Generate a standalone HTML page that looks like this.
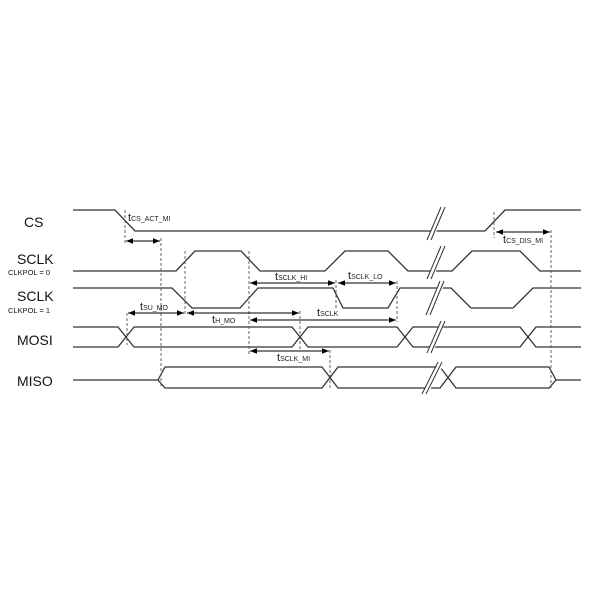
<!DOCTYPE html>
<html><head><style>body{margin:0;background:#fff}svg{display:block}</style></head>
<body>
<svg width="600" height="600" xmlns="http://www.w3.org/2000/svg" font-family="Liberation Sans, sans-serif">
<defs>
<marker id="a" viewBox="0 0 10 10" refX="10" refY="5" markerWidth="7" markerHeight="7" orient="auto-start-reverse"><path d="M0,1 L10,5 L0,9 z" fill="#000"/></marker>
</defs>
<g fill="none" stroke="#333" stroke-width="1.3">
<!-- CS -->
<polyline points="73,210 115,210 135,231 485,231 505,210 581,210"/>
<!-- SCLK0 -->
<polyline points="73,271 176,271 195,251 241,251 260,271 325,271 345,251 388,251 408,271 452,271 472,251 520,251 540,271 581,271"/>
<!-- SCLK1 -->
<polyline points="73,288 172,288 192,308 240,308 258,288 333,288 343,308 388,308 400,288 451,288 471,308 513,308 533,288 581,288"/>
<!-- MOSI -->
<polyline points="73,327 118,327 134,347 292,347 308,327 397,327 413,347 520,347 536,327 581,327"/>
<polyline points="73,347 118,347 134,327 292,327 308,347 397,347 413,327 520,327 536,347 581,347"/>
<!-- MISO -->
<polyline points="73,380 158,380 165,367 322,367 338,388 440,388 456,367 549,367 556,380 581,380"/>
<polyline points="158,380 165,388 322,388 338,367 440,367 456,388 549,388 556,380"/>
</g>
<!-- break marks -->
<g stroke="#fff" stroke-width="5">
<line x1="430" y1="240" x2="444" y2="207"/><line x1="430" y1="279" x2="444" y2="246"/><line x1="429" y1="315" x2="443" y2="281"/><line x1="430" y1="353" x2="443" y2="321"/><line x1="425" y1="394" x2="442" y2="362"/>
</g>
<g stroke="#333" stroke-width="1">
<line x1="427" y1="240" x2="441" y2="207"/><line x1="431" y1="240" x2="445" y2="207"/>
<line x1="427" y1="279" x2="441" y2="246"/><line x1="431" y1="279" x2="445" y2="246"/>
<line x1="426" y1="315" x2="440" y2="281"/><line x1="430" y1="315" x2="444" y2="281"/>
<line x1="427" y1="353" x2="441" y2="321"/><line x1="431" y1="353" x2="445" y2="321"/>
<line x1="422" y1="394" x2="438" y2="362"/><line x1="426" y1="394" x2="442" y2="362"/>
</g>
<!-- dashed -->
<g stroke="#555" stroke-width="0.9" stroke-dasharray="3,2">
<line x1="125" y1="210" x2="125" y2="243"/>
<line x1="161" y1="238" x2="161" y2="388"/>
<line x1="185" y1="251" x2="185" y2="316"/>
<line x1="249" y1="251" x2="249" y2="354"/>
<line x1="336" y1="280" x2="336" y2="310"/>
<line x1="397" y1="281" x2="397" y2="322"/>
<line x1="127" y1="313" x2="127" y2="345"/>
<line x1="300" y1="311" x2="300" y2="350"/>
<line x1="330" y1="350" x2="330" y2="390"/>
<line x1="494" y1="212" x2="494" y2="238"/>
<line x1="551" y1="230" x2="551" y2="390"/>
</g>
<!-- arrows -->
<g stroke="#000" stroke-width="1" marker-start="url(#a)" marker-end="url(#a)">
<line x1="126" y1="241" x2="160" y2="241"/>
<line x1="250" y1="283" x2="335" y2="283"/>
<line x1="338" y1="283" x2="396" y2="283"/>
<line x1="128" y1="313" x2="184" y2="313"/>
<line x1="187" y1="313" x2="299" y2="313"/>
<line x1="250" y1="320" x2="396" y2="320"/>
<line x1="250" y1="351" x2="329" y2="351"/>
<line x1="496" y1="232" x2="550" y2="232"/>
</g>
<g fill="#222" font-size="11">
<text x="128" y="221">t<tspan font-size="7">CS_ACT_MI</tspan></text>
<text x="275" y="280">t<tspan font-size="7">SCLK_HI</tspan></text>
<text x="348" y="279">t<tspan font-size="7">SCLK_LO</tspan></text>
<text x="140" y="310">t<tspan font-size="7">SU_MO</tspan></text>
<text x="212" y="323">t<tspan font-size="7">H_MO</tspan></text>
<text x="317" y="316">t<tspan font-size="7">SCLK</tspan></text>
<text x="277" y="361">t<tspan font-size="7">SCLK_MI</tspan></text>
<text x="503" y="243">t<tspan font-size="7">CS_DIS_MI</tspan></text>
</g>
<g fill="#111" font-size="14">
<text x="24" y="227">CS</text>
<text x="17" y="264">SCLK</text>
<text x="17" y="301">SCLK</text>
<text x="17" y="345">MOSI</text>
<text x="17" y="386">MISO</text>
</g>
<g fill="#111" font-size="7.5">
<text x="8" y="275">CLKPOL = 0</text>
<text x="8" y="313">CLKPOL = 1</text>
</g>
</svg>
</body></html>
